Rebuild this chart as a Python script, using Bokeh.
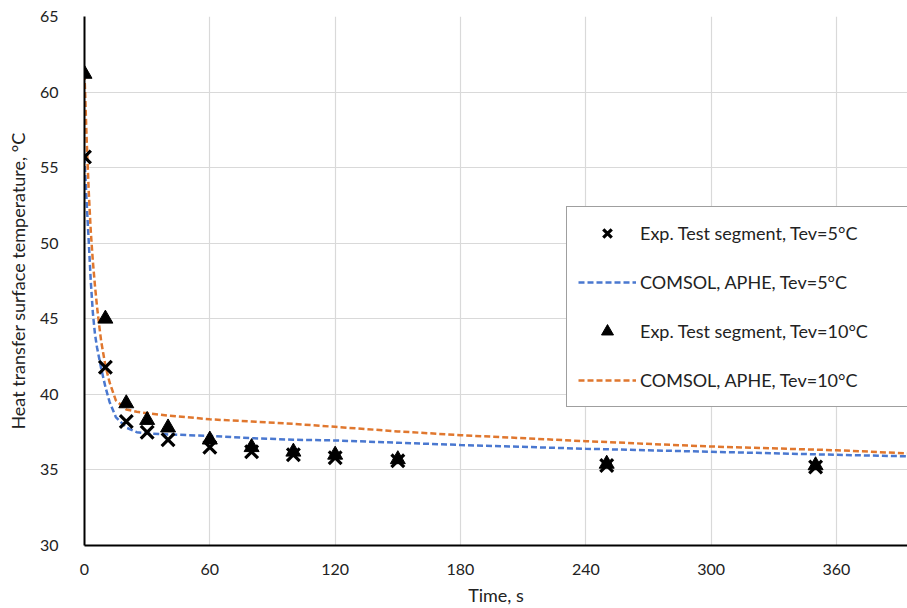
from bokeh.plotting import figure
from bokeh.models import Range1d, FixedTicker, Legend, LegendItem, ColumnDataSource
from bokeh.embed import file_html
from bokeh.resources import INLINE

# Experimental data
exp_t = [0, 10, 20, 30, 40, 60, 80, 100, 120, 150, 250, 350]
exp_5 = [55.7, 41.8, 38.2, 37.5, 37.0, 36.5, 36.2, 36.0, 35.8, 35.6, 35.3, 35.2]
exp_10 = [61.2, 45.0, 39.4, 38.3, 37.8, 37.0, 36.5, 36.2, 36.0, 35.7, 35.4, 35.3]

# COMSOL model curves
com_t = [0, 1, 2, 3, 4, 5, 6, 7, 8, 10, 12, 15, 20, 25, 30, 40, 60, 80, 100,
         120, 150, 180, 240, 300, 360, 394]
com_5 = [55.7, 52.8, 50.2, 47.5, 45.4, 44.0, 43.1, 42.4, 41.7, 40.5, 39.5, 38.5,
         37.8, 37.5, 37.42, 37.35, 37.25, 37.1, 37.0, 36.95, 36.8, 36.65, 36.4,
         36.2, 36.0, 35.9]
com_10 = [61.2, 57.0, 53.5, 50.8, 48.8, 47.2, 45.8, 44.6, 43.5, 41.9, 40.8, 39.6,
          39.0, 38.85, 38.75, 38.6, 38.35, 38.2, 38.05, 37.85, 37.55, 37.3, 36.9,
          36.55, 36.3, 36.1]

x_ticks = [0, 60, 120, 180, 240, 300, 360]
y_ticks = [30, 35, 40, 45, 50, 55, 60, 65]

labels = ["Exp. Test segment, Tev=5°C", "COMSOL, APHE, Tev=5°C",
          "Exp. Test segment, Tev=10°C", "COMSOL, APHE, Tev=10°C"]

FONT = "Lato"
BLUE = "#4a78d0"
ORANGE = "#e0772e"

p = figure(width=907, height=608, output_backend="svg", toolbar_location=None,
           x_range=Range1d(0, 394), y_range=Range1d(30, 65),
           min_border_left=84, min_border_right=0, min_border_top=16,
           min_border_bottom=62)

p.outline_line_color = None
p.background_fill_color = "white"
p.border_fill_color = "white"

p.xaxis.ticker = FixedTicker(ticks=x_ticks)
p.yaxis.ticker = FixedTicker(ticks=y_ticks)
p.xgrid.ticker = FixedTicker(ticks=x_ticks)
p.ygrid.ticker = FixedTicker(ticks=y_ticks)
for g in (p.xgrid, p.ygrid):
    g.grid_line_color = "#d9d9d9"
    g.grid_line_width = 1.2

for ax in (p.xaxis, p.yaxis):
    ax.axis_line_color = "black"
    ax.axis_line_width = 2
    ax.major_tick_line_color = None
    ax.minor_tick_line_color = None
    ax.major_label_text_font = FONT
    ax.major_label_text_font_size = "16px"
    ax.major_label_text_color = "#222222"
    ax.axis_label_text_font = FONT
    ax.axis_label_text_font_size = "18px"
    ax.axis_label_text_font_style = "normal"
    ax.axis_label_text_color = "#222222"

p.xaxis.axis_label = "Time, s"
p.yaxis.axis_label = "Heat transfer surface temperature, °C"
p.xaxis.major_label_standoff = 12
p.yaxis.major_label_standoff = 20
p.xaxis.axis_label_standoff = 6
p.yaxis.axis_label_standoff = 8

exp_src = ColumnDataSource(dict(t=exp_t, y5=exp_5, y10=exp_10))
com_src = ColumnDataSource(dict(t=com_t, y5=com_5, y10=com_10))

r_l5 = p.line("t", "y5", source=com_src, line_color=BLUE, line_width=2.5,
              line_dash="6 3")
r_l10 = p.line("t", "y10", source=com_src, line_color=ORANGE, line_width=2.5,
               line_dash="6 3")
r_x5 = p.scatter("t", "y5", source=exp_src, marker="x", size=18,
                 line_color="black", line_width=3.2)
r_t10 = p.scatter("t", "y10", source=exp_src, marker="triangle", size=15,
                  fill_color="black", line_color="black")

legend = Legend(items=[LegendItem(label=labels[0], renderers=[r_x5]),
                       LegendItem(label=labels[1], renderers=[r_l5]),
                       LegendItem(label=labels[2], renderers=[r_t10]),
                       LegendItem(label=labels[3], renderers=[r_l10])],
                location=(482, 138))
legend.label_text_font = FONT
legend.label_text_font_size = "18px"
legend.label_text_color = "#222222"
legend.padding = 11
legend.spacing = 19
legend.glyph_width = 58
legend.glyph_height = 30
legend.label_height = 30
legend.label_width = 262
legend.label_standoff = 4
legend.border_line_color = "#404040"
legend.border_line_width = 1.2
legend.background_fill_alpha = 1
legend.margin = 0
p.add_layout(legend, "center")

open("out.html", "w").write(file_html(p, INLINE))
